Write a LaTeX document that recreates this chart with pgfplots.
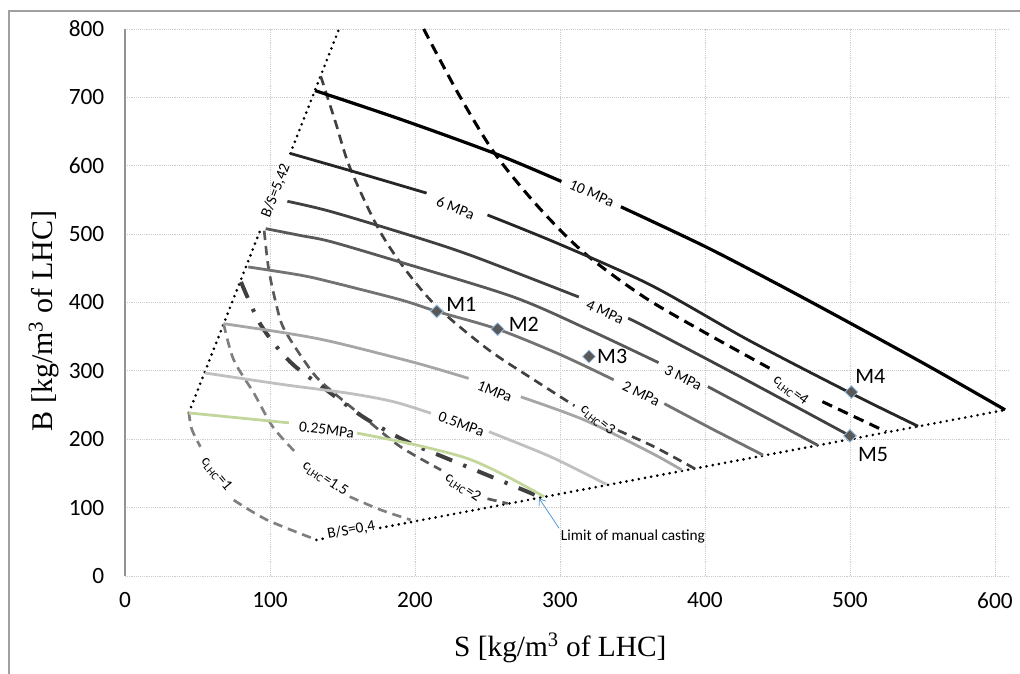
\documentclass[border=0pt]{standalone}
\usepackage{fontspec}
\setmainfont{Carlito}
\newfontfamily\timesf{Liberation Serif}
\usepackage{pgfplots}
\pgfplotsset{compat=1.18}
\usetikzlibrary{arrows.meta}
\definecolor{cA}{HTML}{000000}
\definecolor{cB}{HTML}{262626}
\definecolor{cC}{HTML}{404040}
\definecolor{cD}{HTML}{595959}
\definecolor{cE}{HTML}{737373}
\definecolor{cF}{HTML}{A6A6A6}
\definecolor{cG}{HTML}{C0C0C0}
\definecolor{cgreen}{HTML}{C3D69B}
\definecolor{dgray}{HTML}{595959}
\definecolor{mgray}{HTML}{7F7F7F}
\definecolor{arrowblue}{HTML}{5B9BD5}
\definecolor{mkedge}{HTML}{9DC3E6}
\definecolor{framegray}{HTML}{A0A0A0}
\tikzset{lab/.style={font=\fontsize{11.5}{13}\selectfont, inner sep=0pt},
  mlab/.style={font=\fontsize{16.5}{19}\selectfont, inner sep=0pt}}
\begin{document}
\begin{tikzpicture}[x=1pt,y=1pt]
\useasboundingbox (0,0) rectangle (765,505.5);
\draw[color=framegray, line width=1.1pt] (6.75,0) -- (6.75,497.25) -- (765,497.25);
\begin{axis}[
  at={(93.75pt,73.5pt)}, anchor=south west,
  scale only axis, width=662.25pt, height=410.25pt,
  xmin=0, xmax=609, ymin=0, ymax=800,
  xtick={0,100,...,600}, ytick={0,100,...,800},
  grid=major, major grid style={densely dotted, color=gray!40, line width=0.6pt},
  axis x line*=bottom, axis y line*=left,
  x axis line style={draw=none}, y axis line style={draw=gray!85, line width=0.8pt},
  major tick length=0pt,
  tick label style={font=\fontsize{17.5}{20}\selectfont},
  /pgf/number format/assume math mode=true,
  xticklabel style={yshift=-9pt},
  yticklabel style={xshift=-12pt},
  xlabel={\timesf S [kg/m\textsuperscript{3} of LHC]},
  ylabel={\timesf B [kg/m\textsuperscript{3} of LHC]},
  every axis x label/.style={at={(axis description cs:0.493,-0.1316)}, anchor=center, font=\fontsize{22}{26}\selectfont},
  every axis y label/.style={at={(axis description cs:-0.0917,0.466)}, anchor=center, rotate=90, font=\fontsize{22.5}{26}\selectfont},
  clip=false,
  iso/.style={smooth, tension=0.5, no markers, line width=2.1pt},
  cdash/.style={smooth, tension=0.5, no markers, line width=2pt, dash pattern=on 7pt off 4.5pt},
  bdot/.style={no markers, black, line width=2.2pt, line cap=round, dash pattern=on 0pt off 4.7pt},
]
% boundaries
\addplot[bdot] coordinates {(44,238.5) (94,509.5)};
\addplot[bdot] coordinates {(114,618) (147.6,800)};
\addplot[bdot] coordinates {(132,52.8) (137,54.8)};
\addplot[bdot] coordinates {(176,70.4) (609,243.6)};
% c_LHC curves
\addplot[cdash, mgray] coordinates {(44,240) (46,215) (52,189)};
\addplot[cdash, mgray] coordinates {(75,111) (98,82) (132,53)};
\addplot[cdash, mgray] coordinates {(68,369) (75,316) (89,267) (102,218) (118,180)};
\addplot[cdash, mgray] coordinates {(155,116) (176,97) (197,82)};
\addplot[cdash, dgray] coordinates {(96,505) (99,450) (104,400) (110,360) (130,296) (144,268) (167,228) (190,189) (218,155)};
\addplot[cdash, dgray] coordinates {(250,113) (264,106)};
\addplot[cdash, cC] coordinates {(135,731) (145,665) (155,598) (174,511) (192,452) (215,394) (250,332) (282,287) (310,249)};
\addplot[cdash, cC] coordinates {(340,213) (365,189) (393,157)};
\addplot[cdash, black, line width=2.3pt, dash pattern=on 8pt off 5pt] coordinates {(206,800) (230,705) (255,618) (285,540) (317,472) (358,408) (400,356) (447,301)};
\addplot[cdash, black, line width=2.3pt, dash pattern=on 8pt off 5pt] coordinates {(481,255) (525,211)};
% dash-dot limit
\addplot[smooth, tension=0.5, no markers, cC, line width=3pt, dash pattern=on 13pt off 9pt on 2.5pt off 9pt] coordinates {(80,430) (94,366) (114,313) (139,272) (164,233) (193,198) (222,172) (254,144) (287,115)};
% isobars
\addplot[iso, cA, line width=2.4pt] coordinates {(131,710) (190,668) (255,618) (301,577)};
\addplot[iso, cA, line width=2.4pt] coordinates {(342,540) (400,482) (450,427) (500,370) (555,306) (607,243)};
\addplot[iso, cB] coordinates {(114,618) (160,590) (208,560)};
\addplot[iso, cB] coordinates {(250,528) (300,485) (363,425) (430,345) (500,268) (547,219)};
\addplot[iso, cC] coordinates {(112,548) (142,533) (200,496) (241,467) (313,408)};
\addplot[iso, cC] coordinates {(347,377) (363,360) (430,285) (500,205)};
\addplot[iso, cD] coordinates {(97,508) (121,498) (142,489) (190,459) (268,408) (320,360) (368,312)};
\addplot[iso, cD] coordinates {(402,277) (440,234) (478,191)};
\addplot[iso, cE] coordinates {(85,452) (121,440) (142,430) (190,404) (215,387) (257,361) (300,324) (337,287)};
\addplot[iso, cE] coordinates {(372,252) (405,215) (440,177)};
\addplot[iso, cF] coordinates {(68,369) (109,356) (142,343) (200,312) (237,289)};
\addplot[iso, cF] coordinates {(273,262) (317,228) (363,180) (384,155)};
\addplot[iso, cG] coordinates {(55,297) (109,280) (155,267) (185,255) (211,238)};
\addplot[iso, cG] coordinates {(251,211) (294,174) (332,134)};
\addplot[iso, cgreen] coordinates {(44,238.5) (113,224)};
\addplot[iso, cgreen] coordinates {(160,209) (200,192) (236,172) (264,145) (289,116)};
% mixes
\addplot[only marks, mark=square*, mark size=3.4pt, mark options={rotate=45, fill=dgray, draw=mkedge, line width=0.6pt}] coordinates {(215,387) (257,361) (320,321) (501,269) (500,205)};
% labels
\node[lab, rotate=-24] at (axis cs:322,560) {10 MPa};
\node[lab, rotate=-22] at (axis cs:228,538) {6 MPa};
\node[lab, rotate=-25] at (axis cs:331,386) {4 MPa};
\node[lab, rotate=-26] at (axis cs:385,290) {3 MPa};
\node[lab, rotate=-26] at (axis cs:356,267) {2 MPa};
\node[lab, rotate=-22] at (axis cs:255,270) {1MPa};
\node[lab, rotate=-20] at (axis cs:232,222) {0.5MPa};
\node[lab, rotate=-7] at (axis cs:139,214) {0.25MPa};
\node[lab, rotate=-50] at (axis cs:63,149) {c\textsubscript{LHC}=1};
\node[lab, rotate=-34] at (axis cs:138,142) {c\textsubscript{LHC}=1.5};
\node[lab, rotate=-34] at (axis cs:233,129) {c\textsubscript{LHC}=2};
\node[lab, rotate=-39] at (axis cs:326,228) {c\textsubscript{LHC}=3};
\node[lab, rotate=-37] at (axis cs:459,271) {c\textsubscript{LHC}=4};
\node[lab, rotate=68.7] at (axis cs:104,563) {B/S=5,42};
\node[lab, rotate=10.7] at (axis cs:156,67) {B/S=0,4};
\node[mlab] at (axis cs:232,397) {M1};
\node[mlab] at (axis cs:275,368) {M2};
\node[mlab] at (axis cs:336,321) {M3};
\node[mlab] at (axis cs:514,292) {M4};
\node[mlab] at (axis cs:516,177) {M5};
\draw[arrowblue, line width=0.6pt, -{Straight Barb[length=4pt,width=6pt]}] (axis cs:299.4,69.7) -- (axis cs:285.6,113.6);
\node[font=\fontsize{11.5}{13}\selectfont, anchor=west, inner sep=0pt] at (axis cs:300.5,58) {Limit of manual casting};
\end{axis}
\end{tikzpicture}
\end{document}
